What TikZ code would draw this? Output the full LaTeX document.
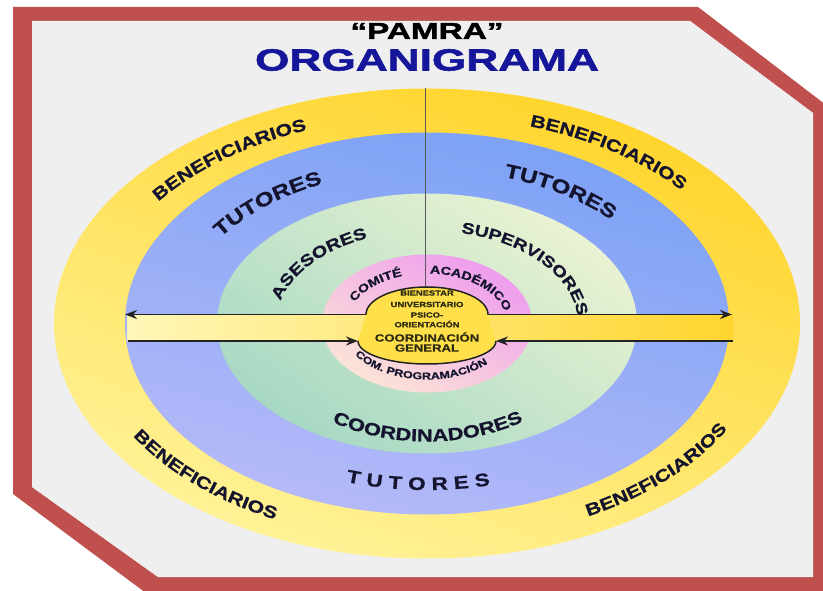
\documentclass[tikz,border=0pt]{standalone}
\usepackage{fontspec}
\setmainfont{Liberation Sans}
\newfontfamily\ringfont{Liberation Sans}[FakeStretch=1.25,FakeBold=0.8]
\newfontfamily\titlefont{Liberation Sans}[FakeStretch=1.45,FakeBold=2]
\usetikzlibrary{shapes.geometric,decorations.text,arrows.meta,calc}
\definecolor{framered}{HTML}{C0504D}
\definecolor{bggray}{HTML}{EFEFEF}
\definecolor{yelA}{HTML}{FFD42A}
\definecolor{yelB}{HTML}{FFF39A}
\definecolor{bluA}{HTML}{7BA1F5}
\definecolor{bluB}{HTML}{B6BAF9}
\definecolor{grnA}{HTML}{EAF3D2}
\definecolor{grnB}{HTML}{A6D8C4}
\definecolor{pnkA}{HTML}{EE9CEE}
\definecolor{pnkB}{HTML}{FCE4D6}
\definecolor{ctrY}{HTML}{FFE04A}
\definecolor{barL}{HTML}{FFF7B8}
\definecolor{barR}{HTML}{FFD52E}
\definecolor{navy}{HTML}{16169A}
\definecolor{ink}{HTML}{14142E}
\definecolor{olivetext}{HTML}{2E2A10}
\definecolor{lineblack}{HTML}{222222}
\newcommand\fsz[1]{\ringfont\bfseries\fontsize{#1}{#1}\selectfont}
\newcommand\arctext[5]{\path[ringtext={#1}] ($(C)+(#2:#4pt and #5pt)$) arc[start angle=#2, end angle=#3, x radius=#4pt, y radius=#5pt];}
\begin{document}
\begin{tikzpicture}[x=1pt,y=1pt,
  ring/.style={ellipse, inner sep=0pt, outer sep=0pt, draw=none},
  ringtext/.style={decorate, decoration={text along path, text align=left, text color=ink, text={#1}}},
  barline/.style={line width=1.8pt, draw=lineblack},
  tipend/.style={-{Stealth[length=12pt,width=9pt]}},
  cline/.style={line width=1.5pt, draw=lineblack},
  ctext/.style={text=olivetext, inner sep=0pt, align=center}
]
\useasboundingbox (0,0) rectangle (823,590);
\fill[white] (0,0) rectangle (823,590);
% frame
\fill[framered, even odd rule] (13,583) -- (698,583) -- (826,485) -- (826,-3) -- (146,-3) -- (13,96) -- cycle
  (32,569) -- (690,569) -- (813,477) -- (813,13) -- (158,13) -- (32,103) -- cycle;
\fill[bggray] (32,569) -- (690,569) -- (813,477) -- (813,13) -- (158,13) -- (32,103) -- cycle;
% rings
\coordinate (C) at (427,266.5);
\node[ring, minimum width=746pt, minimum height=470pt, top color=yelA, bottom color=yelB, shading angle=-20] (ben) at (C) {};
\node[ring, minimum width=604pt, minimum height=382pt, top color=bluA, bottom color=bluB, shading angle=-15] (tut) at (C) {};
\node[ring, minimum width=420pt, minimum height=260pt, top color=grnA, bottom color=grnB, shading angle=-35] (grn) at (C) {};
\node[ring, minimum width=210pt, minimum height=138pt, top color=pnkA, bottom color=pnkB, shading angle=-30] (com) at (C) {};
% vertical line
\coordinate (vtop) at (425,502);
\coordinate (vbot) at (425,303);
\draw[line width=1pt, draw=black!65] (vtop) -- (vbot);
% bar
\node[rectangle, inner sep=0pt, minimum width=606pt, minimum height=26.5pt, left color=barL, right color=barR] (bar) at (430,262.25) {};
\coordinate (tl) at (125,275.5);
\coordinate (tr) at (732,275.5);
\draw[barline, {Stealth[length=12pt,width=9pt]}-{Stealth[length=12pt,width=9pt]}] (tl) -- (tr);
% centre
\fill[ctrY] (488,275.5) arc[start angle=0,end angle=180,x radius=61pt,y radius=27.5pt] -- (358,249) arc[start angle=180,end angle=360,x radius=69pt,y radius=23pt] -- cycle;
\draw[cline] (488,275.5) arc[start angle=0,end angle=180,x radius=61pt,y radius=27.5pt];
\draw[cline] (358,249) arc[start angle=180,end angle=360,x radius=69pt,y radius=23pt];
\coordinate (bl) at (128,249);
\coordinate (br) at (733,249);
\coordinate (cl) at (358,249);
\coordinate (cr) at (496,249);
\draw[barline, tipend] (bl) -- (cl);
\draw[barline, tipend] (br) -- (cr);
% centre texts
\node[ctext, font=\fsz{7.5}] (bien) at (427,297) {BIENESTAR};
\node[ctext, font=\fsz{7.5}] (univ) at (427,285.5) {UNIVERSITARIO};
\node[ctext, font=\fsz{7.5}] (psico) at (427,275) {PSICO-};
\node[ctext, font=\fsz{7.5}] (orien) at (427,266) {ORIENTACIÓN};
\node[ctext, font=\fsz{10.5}] (coord) at (427,253) {COORDINACIÓN};
\node[ctext, font=\fsz{10.5}] (gen) at (427,242) {GENERAL};
% title
\node[font=\titlefont\bfseries\fontsize{23}{23}\selectfont] (pamra) at (427,559) {“PAMRA”};
\node[font=\titlefont\bfseries\fontsize{30.5}{30.5}\selectfont, text=navy] (org) at (427,530) {ORGANIGRAMA};
% ring texts
\arctext{|\fsz{17}|BENEFICIARIOS}{144}{24}{332}{207.5}
\arctext{|\fsz{17}|BENEFICIARIOS}{72}{-48}{332}{207.5}
\arctext{|\fsz{17}|BENEFICIARIOS}{211}{331}{343}{218.5}
\arctext{|\fsz{17}|BENEFICIARIOS}{298}{418}{343}{218.5}
\arctext{|\fsz{19.5}|TUTORES}{146}{26}{249}{154}
\arctext{|\fsz{19.5}|TUTORES}{72}{-48}{249}{154}
\arctext{|\fsz{18}|T U T O R E S}{252}{372}{262}{166.5}
\arctext{|\fsz{16}|ASESORES}{166}{46}{151}{93}
\arctext{|\fsz{15.5}|SUPERVISORES}{77}{-60}{151}{93}
\arctext{|\fsz{17.5}|COORDINADORES}{236.5}{357}{172}{118}
\arctext{|\fsz{11.5}|COMITÉ}{155}{35}{80}{50}
\arctext{|\fsz{11.5}|ACADÉMICO}{88}{-40}{80}{50}
\arctext{|\fsz{10}|COM. PROGRAMACIÓN}{214}{357}{87}{56}
\end{tikzpicture}
\end{document}
